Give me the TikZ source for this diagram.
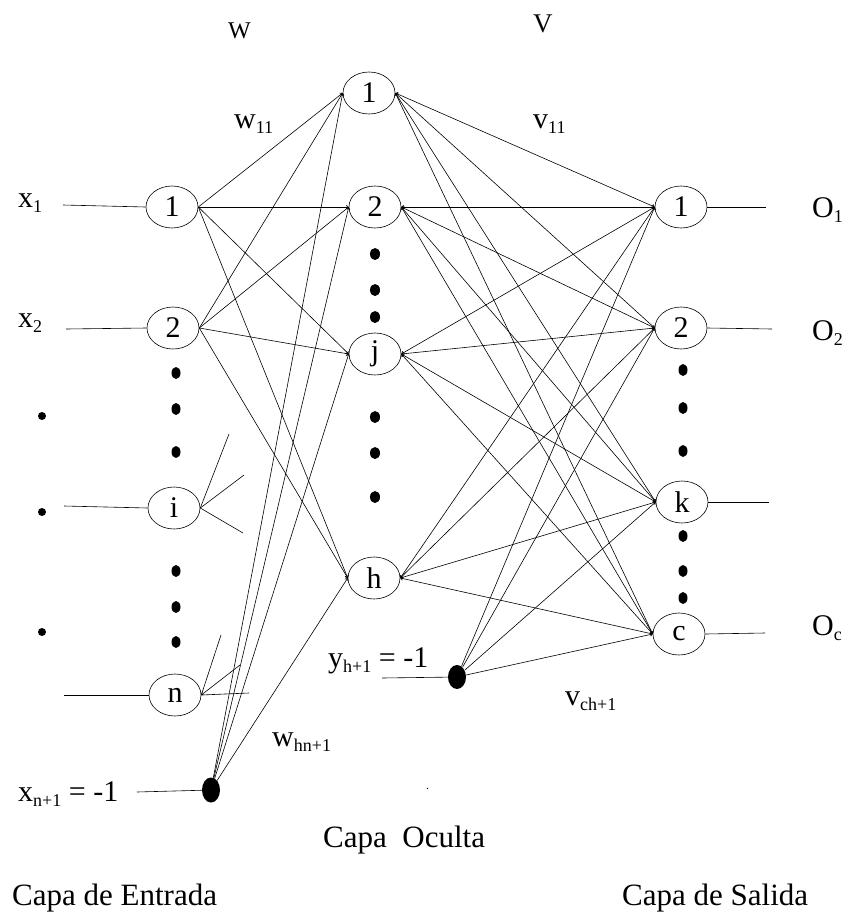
\documentclass[tikz,border=0pt]{standalone}
\usepackage{fontspec}
\setmainfont{Liberation Serif}
\usetikzlibrary{shapes.geometric,arrows.meta}
\newcommand\lsub[1]{\raisebox{-5pt}{\fontsize{18}{18}\selectfont #1}}
\begin{document}
\begin{tikzpicture}[x=1pt,y=-1pt,
  neuron/.style={draw,ellipse,minimum width=52pt,minimum height=42pt,inner sep=0pt,line width=0.6pt,font=\fontsize{30}{32}\selectfont},
  biasnode/.style={fill,ellipse,minimum width=18pt,minimum height=25pt,inner sep=0pt},
  bigdot/.style={fill,ellipse,minimum width=9pt,minimum height=12pt,inner sep=0pt},
  smalldot/.style={fill,circle,minimum size=8pt,inner sep=0pt},
  lbl/.style={inner sep=0pt,anchor=base west,font=\fontsize{30}{32}\selectfont},
  layertitle/.style={inner sep=0pt,anchor=base west,font=\fontsize{31}{34}\selectfont},
  wire/.style={line width=0.6pt},
  link/.style={line width=0.6pt,-{Straight Barb[length=2pt,width=3.5pt]}},
  dlink/.style={line width=0.6pt,{Straight Barb[length=2pt,width=3.5pt]}-{Straight Barb[length=2pt,width=3.5pt]}}
]
\useasboundingbox (0,0) rectangle (848,913);

% input layer
\node[neuron] (i1) at (172,207) {1};
\node[neuron] (i2) at (173,328) {2};
\node[neuron] (ii) at (174,508) {i};
\node[neuron] (in) at (175,695) {n};
\node[biasnode] (bx) at (211,790) {};

% hidden layer
\node[neuron] (h1) at (369,93) {1};
\node[neuron] (h2) at (375,207) {2};
\node[neuron] (hj) at (375,354) {j};
\node[neuron] (hh) at (374,578) {h};
\node[biasnode,minimum height=24pt] (by) at (457,677) {};

% output layer
\node[neuron] (o1) at (681,207) {1};
\node[neuron] (o2) at (681,328) {2};
\node[neuron] (ok) at (682,502) {k};
\node[neuron] (oc) at (679,634) {c};

% dots
\foreach \y [count=\n] in {373,409,452,571,607,642}
  \node[bigdot] (di\n) at (176,\y) {};
\foreach \y [count=\n] in {254,290,317,417,453,497}
  \node[bigdot,minimum width=10pt] (dh\n) at (375,\y) {};
\foreach \y [count=\n] in {370,408,451,536,571,598}
  \node[bigdot] (do\n) at (683,\y) {};
\foreach \y [count=\n] in {416,512,632}
  \node[smalldot] (dl\n) at (42,\y) {};

% input wires
\coordinate (x1s) at (63,205);
\coordinate (x2s) at (66,329);
\coordinate (xis) at (64,506);
\coordinate (xns) at (64,695);
\coordinate (xbs) at (137,792);
\coordinate (ybs) at (382,678);
\draw[wire] (x1s) -- (i1.west);
\draw[wire] (x2s) -- (i2.west);
\draw[wire] (xis) -- (ii.west);
\draw[wire] (xns) -- (in.west);
\draw[wire] (xbs) -- (bx);
\draw[wire] (ybs) -- (by);

% stubs
\coordinate (s1) at (229,434);
\coordinate (s2) at (244,475);
\coordinate (s3) at (243,533);
\draw[wire] (ii.east) -- (s1);
\draw[wire] (ii.east) -- (s2);
\draw[wire] (ii.east) -- (s3);
\coordinate (t1) at (221,635);
\coordinate (t2) at (240,665);
\coordinate (t3) at (249,693);
\draw[wire] (in.east) -- (t1);
\draw[link] (t2) -- (in.east);
\draw[wire] (in.east) -- (t3);

% output wires
\coordinate (o1e) at (766,207);
\coordinate (o2e) at (772,329);
\coordinate (oke) at (769,502);
\coordinate (oce) at (765,633);
\draw[wire] (o1.east) -- (o1e);
\draw[wire] (o2.east) -- (o2e);
\draw[wire] (ok.east) -- (oke);
\draw[wire] (oc.east) -- (oce);

% connections W
\foreach \a in {i1,i2}
  \foreach \b in {h1,h2,hj,hh}
    \draw[link] (\a.east) -- (\b.west);
\foreach \b in {h1,h2,hj,hh}
  \draw[link] (bx) -- (\b.west);

% connections V
\foreach \a in {h1,h2,hj,hh}
  \foreach \b in {o1,o2,ok,oc}
    \draw[dlink] (\a.east) -- (\b.west);
\foreach \b in {o1,o2,ok,oc}
  \draw[link] (by) -- (\b.west);

% labels
\node[lbl] (lx1) at (18,207) {x\lsub{1}};
\node[lbl] (lx2) at (18,327) {x\lsub{2}};
\node[lbl] (lxb) at (18,801) {x\lsub{n+1} = -1};
\node[lbl] (lyb) at (328,667) {y\lsub{h+1} = -1};
\node[lbl,font=\fontsize{24}{26}\selectfont] (lW) at (228,38) {W};
\node[lbl,font=\fontsize{27}{29}\selectfont] (lV) at (533,32) {V};
\node[lbl] (lw11) at (234,128) {w\lsub{11}};
\node[lbl] (lv11) at (533,128) {v\lsub{11}};
\node[lbl] (lwh) at (272,746) {w\lsub{hn+1}};
\node[lbl] (lvc) at (565,705) {v\lsub{ch+1}};
\node[lbl] (lO1) at (812,217) {O\lsub{1}};
\node[lbl] (lO2) at (812,340) {O\lsub{2}};
\node[lbl] (lOc) at (812,635) {O\lsub{c}};
\node[lbl] (lmark) at (426,789) {\fontsize{12}{12}\selectfont .};
\node[layertitle] (lhid) at (323,847) {Capa\ \ Oculta};
\node[layertitle] (lin) at (12,905) {Capa de Entrada};
\node[layertitle] (lout) at (622,905) {Capa de Salida};
\end{tikzpicture}
\end{document}
